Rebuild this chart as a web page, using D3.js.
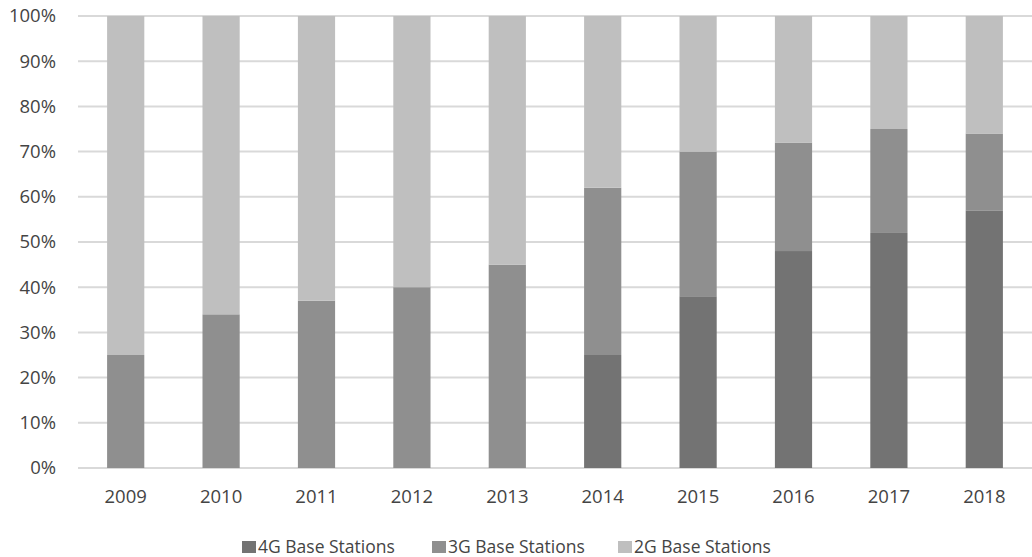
<!DOCTYPE html>
<html>
<head>
<meta charset="utf-8">
<script src="https://cdn.jsdelivr.net/npm/d3@7"></script>
<style>
  body { margin: 0; background: #fff; }
  text { font-family: "Open Sans", sans-serif; fill: #444; }
</style>
</head>
<body>
<div id="chart"></div>
<script>
// data (percent of base stations)
var years = ["2009", "2010", "2011", "2012", "2013", "2014", "2015", "2016", "2017", "2018"];
var g4 = [0, 0, 0, 0, 0, 25, 38, 48, 52, 57];
var g3 = [25, 34, 37, 40, 45, 37, 32, 24, 23, 17];
var g2 = [75, 66, 63, 60, 55, 38, 30, 28, 25, 26];
var seriesNames = ["4G Base Stations", "3G Base Stations", "2G Base Stations"];
var yTicks = [0, 10, 20, 30, 40, 50, 60, 70, 80, 90, 100];

var colors = ["#737373", "#8f8f8f", "#bfbfbf"];

var W = 1032, H = 557;
var margin = {top: 16, right: 0, bottom: 89, left: 78},
    width = W - margin.left - margin.right,
    height = H - margin.top - margin.bottom;

var table = years.map(function(y, i) {
  return {year: y, "4G Base Stations": g4[i], "3G Base Stations": g3[i], "2G Base Stations": g2[i]};
});
var stacked = d3.stack().keys(seriesNames)(table);

var svg = d3.select("#chart")
  .append("svg")
    .attr("width", W)
    .attr("height", H)
  .append("g")
    .attr("transform", "translate(" + margin.left + "," + margin.top + ")");

var x = d3.scaleBand()
    .domain(years)
    .range([0, width])
    .paddingInner(0.61)
    .paddingOuter(0.305);

var y = d3.scaleLinear()
    .domain([0, 100])
    .range([height, 0]);

// gridlines
svg.append("g")
  .selectAll("line")
  .data(yTicks)
  .enter()
  .append("line")
    .attr("x1", 0)
    .attr("x2", width)
    .attr("y1", d => y(d))
    .attr("y2", d => y(d))
    .style("stroke", "#d9d9d9")
    .style("stroke-width", 2);

// bars
svg.append("g")
  .selectAll("g")
  .data(stacked)
  .enter()
  .append("g")
    .style("fill", (d, i) => colors[i])
  .selectAll("rect")
  .data(d => d)
  .enter()
  .append("rect")
    .attr("x", d => x(d.data.year))
    .attr("y", d => y(d[1]))
    .attr("width", x.bandwidth())
    .attr("height", d => y(d[0]) - y(d[1]));

// y axis
var yAxis = svg.append("g")
  .call(d3.axisLeft(y).tickValues(yTicks).tickFormat(d => d + "%").tickSize(0).tickPadding(22));
yAxis.select(".domain").remove();
yAxis.selectAll("text").style("font-size", "18.5px").style("fill", "#444");

// x axis
var xAxis = svg.append("g")
  .attr("transform", "translate(0," + height + ")")
  .call(d3.axisBottom(x).tickSize(0).tickPadding(22));
xAxis.select(".domain").remove();
xAxis.selectAll("text").style("font-size", "18.5px").style("fill", "#444");

// legend
var legendX = [242, 432, 618];
var legend = svg.append("g")
  .attr("transform", "translate(" + (-margin.left) + "," + (538 - margin.top) + ")")
  .selectAll("g")
  .data(seriesNames)
  .enter()
  .append("g")
    .attr("transform", (d, i) => "translate(" + legendX[i] + ",0)");
legend.append("rect")
    .attr("x", 0)
    .attr("y", 3)
    .attr("width", 14)
    .attr("height", 12)
    .style("fill", (d, i) => colors[i]);
legend.append("text")
    .attr("x", 16)
    .attr("y", 15)
    .style("font-size", "17.5px")
    .text(d => d);
</script>
</body>
</html>
